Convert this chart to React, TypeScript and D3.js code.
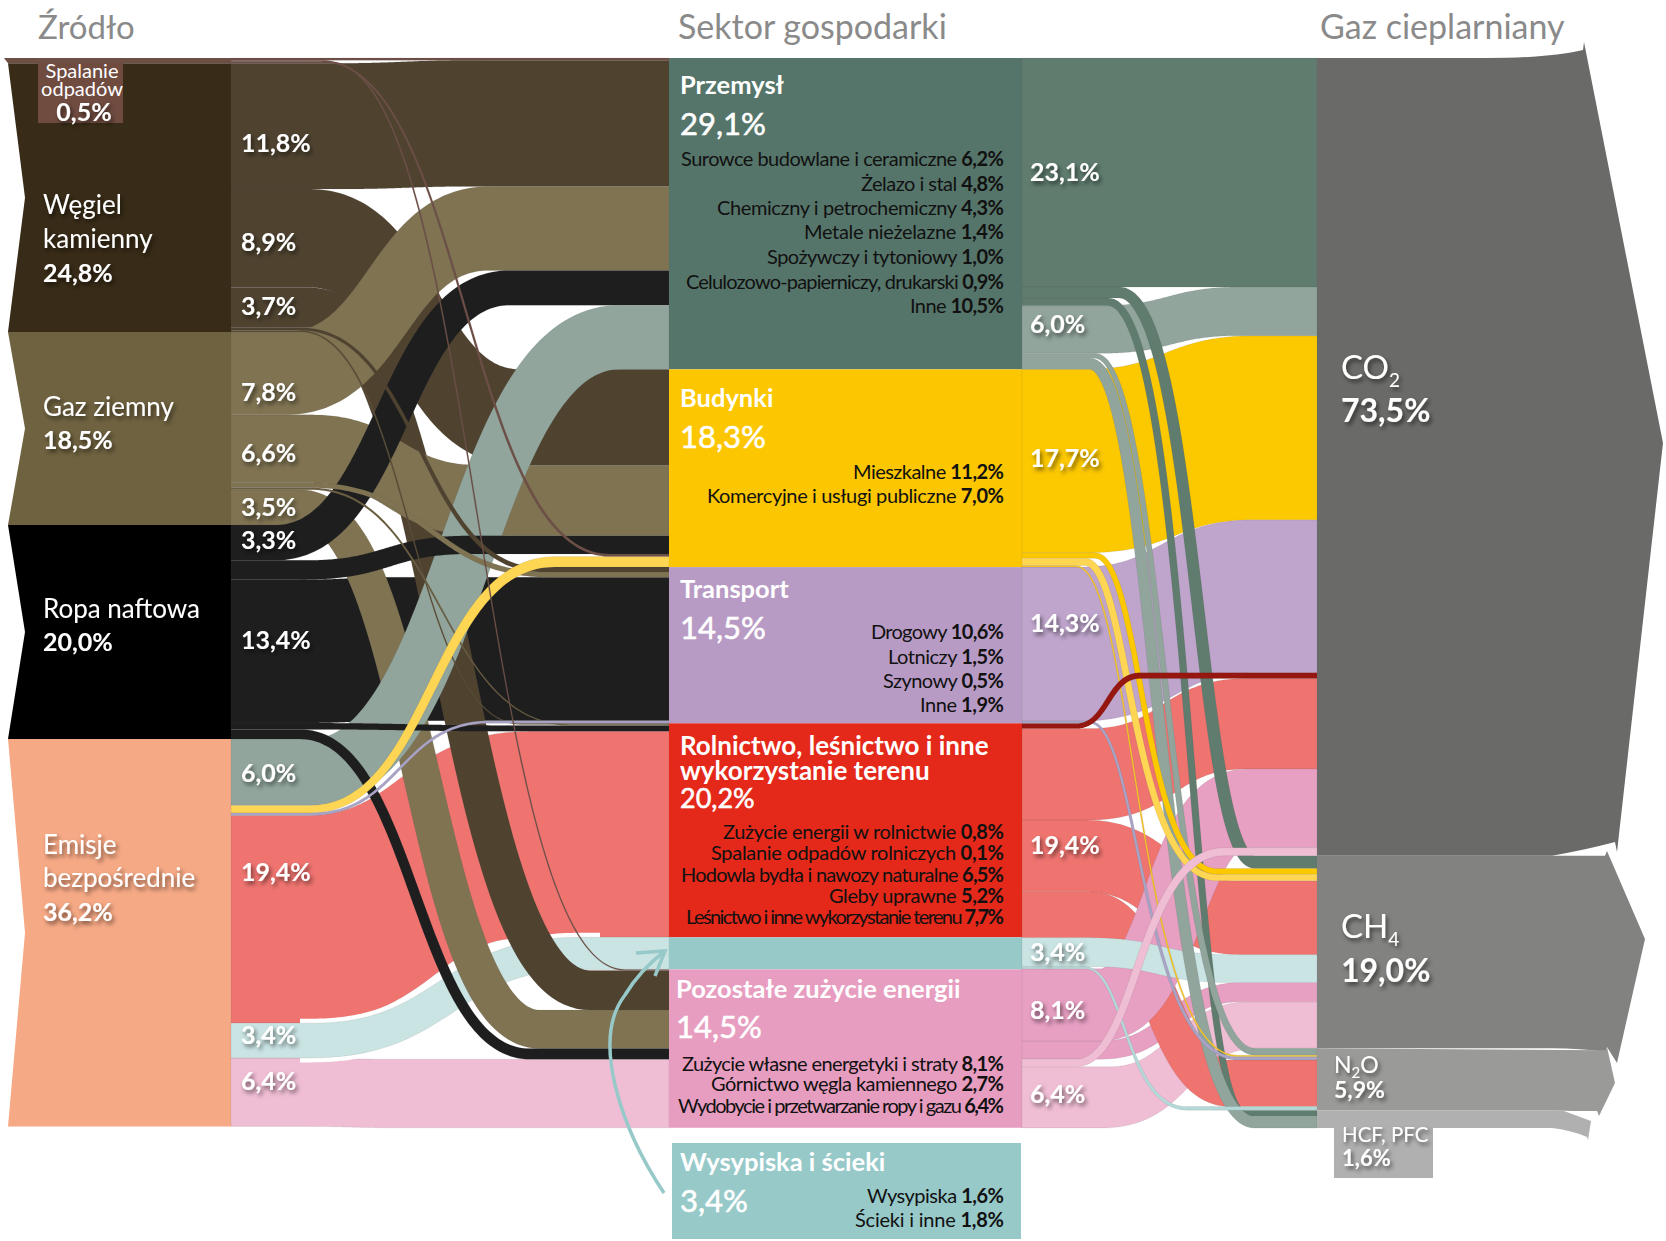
import React from 'react';
import * as d3 from 'd3';

// ---------- data: band widths in % of total emissions ----------
const leftIds = ['sp-prz','sp-bud','sp-poz','wk-prz','wk-bud','wk-poz','wk-tra','wk-rol','gz-prz','gz-bud','gz-tra','gz-rol','gz-poz','rn-prz','rn-bud','rn-tra','rn-rol','rn-poz','em-prz','em-bud','em-tra','em-rol','em-wys','em-poz'];
const leftSrcValues = [0.2,0.15,0.15, 11.75,9.2,3.75,0.25,0.15, 7.75,6.35,0.45,0.2,3.3, 3.3,1.8,13.4,0.6,0.9, 6.2,0.7,0.25,19.4,3.25,6.4];
const leftDstOrder = ['sp-prz','wk-prz','gz-prz','rn-prz','em-prz','wk-bud','gz-bud','rn-bud','sp-bud','em-bud','wk-tra','gz-tra','rn-tra','em-tra','wk-rol','gz-rol','rn-rol','em-rol','em-wys','sp-poz','wk-poz','gz-poz','rn-poz','em-poz'];
const leftDstValues = [0.2,11.8,7.85,3.25,6.0, 8.95,6.6,1.7,0.25,0.98, 0.45,0.5,13.4,0.25, 0.1,0.1,0.55,19.25, 3.0, 0.1,3.7,3.6,1.0,6.4];

const rightIds = ['prz-co2','prz-ch4','prz-hfc','gg-co2','gg-n2o','gg-hfc','bud-co2','bud-ch4','byl-ch4','byl-n2o','tra-co2','tra-n2o','rod-co2','rol-co2','rol-ch4','rol-n2o','wys-ch4','wys-n2o','poz-co2','poz-ch4','pl-co2','pl-ch4'];
const rightSrcValues = [21.4,1.03,0.72, 4.45,0.47,1.03, 17.14,0.52,0.67,0.14, 14.4,0.23, 0.47,8.55,6.7,4.3, 2.7,0.2, 6.75,1.7,0.7,5.72];
const rightDstOrder = ['prz-co2','gg-co2','bud-co2','tra-co2','rod-co2','rol-co2','poz-co2','pl-co2','prz-ch4','bud-ch4','byl-ch4','rol-ch4','wys-ch4','poz-ch4','pl-ch4','gg-n2o','byl-n2o','tra-n2o','rol-n2o','wys-n2o','prz-hfc','gg-hfc'];
const rightDstValues = [21.4,4.55,17.2,14.3,0.55,8.45,7.35,0.75, 1.2,0.55,0.6,6.9,2.6,1.8,4.35, 0.65,0.15,0.3,4.35,0.33, 0.6,1.08];

const sourceLabels: [string, string[], string][] = [
  ['wk', ['Węgiel', 'kamienny'], '24,8%'],
  ['gz', ['Gaz ziemny'], '18,5%'],
  ['rn', ['Ropa naftowa'], '20,0%'],
  ['em', ['Emisje', 'bezpośrednie'], '36,2%'],
];
const leftFlowLabels = ['11,8%','8,9%','3,7%','7,8%','6,6%','3,5%','3,3%','13,4%','6,0%','19,4%','3,4%','6,4%'];
const rightFlowLabels = ['23,1%','6,0%','17,7%','14,3%','19,4%','3,4%','8,1%','6,4%'];

const przemyslItems: [string, string][] = [['Surowce budowlane i ceramiczne','6,2%'],['Żelazo i stal','4,8%'],['Chemiczny i petrochemiczny','4,3%'],['Metale nieżelazne','1,4%'],['Spożywczy i tytoniowy','1,0%'],['Celulozowo-papierniczy, drukarski','0,9%'],['Inne','10,5%']];
const budynkiItems: [string, string][] = [['Mieszkalne','11,2%'],['Komercyjne i usługi publiczne','7,0%']];
const transportItems: [string, string][] = [['Drogowy','10,6%'],['Lotniczy','1,5%'],['Szynowy','0,5%'],['Inne','1,9%']];
const rolnictwoItems: [string, string][] = [['Zużycie energii w rolnictwie','0,8%'],['Spalanie odpadów rolniczych','0,1%'],['Hodowla bydła i nawozy naturalne','6,5%'],['Gleby uprawne','5,2%'],['Leśnictwo i inne wykorzystanie terenu','7,7%']];
const pozostaleItems: [string, string][] = [['Zużycie własne energetyki i straty','8,1%'],['Górnictwo węgla kamiennego','2,7%'],['Wydobycie i przetwarzanie ropy i gazu','6,4%']];
const wysypiskaItems: [string, string][] = [['Wysypiska','1,6%'],['Ścieki i inne','1,8%']];

// ---------- layout & style ----------
const X = { srcL: 8, srcR: 231, secL: 669, secR: 1022, gasL: 1317 };
const y = d3.scaleLinear().domain([0, 100]).range([58, 1128]);
const h = (v: number) => y(v) - y(0);

const C = {
  wkN: '#382B17', wk: '#4F4330', gzN: '#6F6240', gz: '#7F7352', rnN: '#000000', rn: '#1E1E1E', emN: '#F6A985',
  prz: '#5F7C6E', gg: '#91A59C', bud: '#FCC800', byl: '#FFD654', tra: '#BFA5CC', rol: '#EF7470', rod: '#96170F',
  wys: '#C9E4E3', poz: '#E79FC2', pl: '#EFBDD4', sp: '#6E4F46', lav: '#A9A3C6',
};
const colorOf: Record<string, string> = {
  'sp-prz': C.sp, 'sp-bud': C.sp, 'sp-poz': C.sp,
  'wk-prz': C.wk, 'wk-bud': C.wk, 'wk-poz': C.wk, 'wk-tra': C.wk, 'wk-rol': '#5b4c35',
  'gz-prz': C.gz, 'gz-bud': C.gz, 'gz-tra': C.gz, 'gz-rol': '#6a5e40', 'gz-poz': C.gz,
  'rn-prz': C.rn, 'rn-bud': C.rn, 'rn-tra': C.rn, 'rn-rol': C.rn, 'rn-poz': C.rn,
  'em-prz': C.gg, 'em-bud': C.byl, 'em-tra': C.lav, 'em-rol': C.rol, 'em-wys': C.wys, 'em-poz': C.pl,
  'prz-co2': C.prz, 'prz-ch4': C.prz, 'prz-hfc': C.prz, 'gg-co2': C.gg, 'gg-n2o': C.gg, 'gg-hfc': C.gg,
  'bud-co2': C.bud, 'bud-ch4': C.bud, 'byl-ch4': C.byl, 'byl-n2o': '#F8C72A', 'tra-co2': C.tra, 'tra-n2o': C.lav,
  'rod-co2': C.rod, 'rol-co2': C.rol, 'rol-ch4': C.rol, 'rol-n2o': C.rol, 'wys-ch4': C.wys, 'wys-n2o': '#B5D9D8',
  'poz-co2': C.poz, 'poz-ch4': C.poz, 'pl-co2': C.pl, 'pl-ch4': C.pl,
};
// ribbon routing: [start of bend, end of bend, x of the steep middle (optional), how far the band keeps its width across the slope (1 = fully)]
type Bend = [number, number, number?, number?];
const bends: Record<string, Bend> = {
  'sp-prz': [300, 500], 'sp-bud': [320, 610], 'sp-poz': [330, 625],
  'wk-prz': [330, 480], 'wk-bud': [310, 520, undefined, 0.55], 'wk-poz': [310, 590], 'wk-tra': [300, 540], 'wk-rol': [300, 520],
  'gz-prz': [285, 490, undefined, 0.55], 'gz-bud': [310, 480, undefined, 0.4], 'gz-tra': [310, 550], 'gz-rol': [310, 570], 'gz-poz': [300, 540],
  'rn-prz': [275, 510], 'rn-bud': [305, 470], 'rn-tra': [300, 400], 'rn-rol': [300, 520], 'rn-poz': [300, 530],
  'em-prz': [310, 620, undefined, 0.8], 'em-bud': [310, 555], 'em-tra': [310, 490], 'em-rol': [303, 531, undefined, 0.3], 'em-wys': [312, 580], 'em-poz': [300, 400],
  'prz-co2': [1100, 1240, undefined, 0], 'prz-ch4': [1119, 1255, 1197], 'prz-hfc': [1108, 1245, 1190],
  'gg-co2': [1100, 1240, undefined, 0.3], 'gg-n2o': [1095, 1255, 1165], 'gg-hfc': [1090, 1255, 1158],
  'bud-co2': [1085, 1255, undefined, 0.2], 'bud-ch4': [1095, 1217, 1142], 'byl-ch4': [1085, 1217, 1130], 'byl-n2o': [1076, 1238, 1135],
  'tra-co2': [1080, 1255, undefined, 0.2], 'tra-n2o': [1090, 1238, 1140], 'rod-co2': [1076, 1140],
  'rol-co2': [1090, 1246, undefined, 0.3], 'rol-ch4': [1085, 1240, undefined, 0.5], 'rol-n2o': [1090, 1230, undefined, 0.7],
  'wys-ch4': [1090, 1230, undefined, 0.5], 'wys-n2o': [1085, 1187, 1125],
  'poz-co2': [1100, 1246, undefined, 0.8], 'poz-ch4': [1100, 1242], 'pl-co2': [1076, 1225, 1138], 'pl-ch4': [1106, 1255, undefined, 0.6],
};
const leftDrawOrder = ['rn-tra','em-rol','em-poz','TEALGAP','em-wys','wk-poz','gz-poz','gz-bud','wk-bud','wk-prz','gz-prz','rn-prz','em-prz','rn-bud','rn-poz','rn-rol','gz-tra','wk-tra','wk-rol','gz-rol','em-bud','em-tra','sp-prz','sp-bud','sp-poz'];
const rightDrawOrder = ['prz-co2','tra-co2','bud-co2','gg-co2','rol-co2','rol-ch4','pl-ch4','poz-ch4','rol-n2o','poz-co2','wys-ch4','prz-hfc','prz-ch4','gg-hfc','gg-n2o','bud-ch4','byl-ch4','byl-n2o','tra-n2o','wys-n2o','pl-co2','rod-co2'];

function stack(ids: string[], values: number[]) {
  const out: Record<string, [number, number]> = {};
  let c = 0;
  ids.forEach((id, i) => { out[id] = [c, c + values[i]]; c += values[i]; });
  return out;
}
const leftA = stack(leftIds, leftSrcValues);
const leftB = stack(leftDstOrder, leftDstValues);
const rightA = stack(rightIds, rightSrcValues);
const rightB = stack(rightDstOrder, rightDstValues);

const lineGen = d3.line<[number, number]>();

function ribbon(x0: number, x1: number, a: [number, number], b: [number, number], bend: Bend) {
  const ya = y((a[0] + a[1]) / 2), yb = y((b[0] + b[1]) / 2);
  const wa = h(a[1] - a[0]), wb = h(b[1] - b[0]);
  const [xa, xb] = bend;
  const xm = bend[2] ?? (xa + xb) / 2;
  const k = bend[3] ?? 1;
  const up: [number, number][] = [[x0, ya - wa / 2]];
  const dn: [number, number][] = [[x0, ya + wa / 2]];
  d3.range(0, 91).forEach((i) => {
    const t = i / 90, s = 1 - t;
    const px = s*s*s*xa + 3*s*s*t*xm + 3*s*t*t*xm + t*t*t*xb;
    const py = s*s*s*ya + 3*s*s*t*ya + 3*s*t*t*yb + t*t*t*yb;
    const dx = 3*s*s*(xm-xa) + 3*t*t*(xb-xm) + 1e-6;
    const dy = 6*s*t*(yb-ya);
    const L = Math.hypot(dx, dy);
    const w = (wa + (wb - wa) * t) / 2;
    const ox = k * (dy / L) * w;
    const oy = ((1 - k) + k * (dx / L)) * w;
    up.push([px + ox, py - oy]);
    dn.push([px - ox, py + oy]);
  });
  up.push([x1, yb - wb / 2]);
  dn.push([x1, yb + wb / 2]);
  return lineGen([...up, ...dn.reverse()]) + 'Z';
}

const span = (st: Record<string, [number, number]>, prefix: string, second = false): [number, number] => {
  const keys = Object.keys(st).filter((k) => (second ? k.split('-')[1] : k.split('-')[0]) === prefix);
  return [d3.min(keys, (k) => st[k][0])!, d3.max(keys, (k) => st[k][1])!];
};

const FONT = 'Lato, Carlito, sans-serif';

function Shadowed(p: any) {
  return <text fill="#fff" filter="url(#sh)" fontFamily={FONT} {...p} />;
}
function Pct(p: any) {
  return <text fontSize={31} stroke="#fff" strokeWidth={0.55} {...p} />;
}
function ItemList({ items, baselines, widths, size = 20 }: { items: [string, string][]; baselines: number[]; widths: number[]; size?: number }) {
  return (
    <g fontFamily={FONT} fontSize={size} fill="#111">
      {items.map((it, i) => (
        <text key={it[0]} x={1004 - widths[i]} y={baselines[i]} textLength={widths[i]} lengthAdjust="spacing">
          {it[0]} <tspan fontWeight={700}>{it[1]}</tspan>
        </text>
      ))}
    </g>
  );
}

const chevron = (t: number, b: number) => `M${X.srcL},${t}L${X.srcL + 17},${(t + b) / 2}L${X.srcL},${b}L${X.srcR},${b}L${X.srcR},${t}Z`;

const gasShapes = [
  { fill: '#6A6A68', d: (t: number, b: number) => `M${X.gasL},${t}L1487,${t}Q1550,${t} 1583,50L1584,42L1663,443L1617,852L1615,842Q1585,850 1552,${b}L${X.gasL},${b}Z`, ext: 'co2' },
  { fill: '#828280', d: (t: number, b: number) => `M${X.gasL},${t}L1605,${t}L1607,851L1645,939L1617,1063L1607,1047L1606,1052Q1580,${b} 1552,${b}L${X.gasL},${b}Z`, ext: 'ch4' },
  { fill: '#9A9A98', d: (t: number, b: number) => `M${X.gasL},${t}L1606,${t + 2}L1607,1047L1615,1083L1599,1116L1597,1111Q1575,${b + 1} 1552,${b}L${X.gasL},${b}Z`, ext: 'n2o' },
  { fill: '#B0B0B0', d: (t: number, b: number) => `M${X.gasL},${t}L1562,${t}Q1578,1116 1591,1121L1588,1140L1587,1137Q1570,1130 1552,${b}L${X.gasL},${b}Z`, ext: 'hfc' },
];

export default function App() {
  const srcExt = (k: string) => span(leftA, k);
  const secExt = (k: string) => span(leftB, k, true);
  const arrow = d3.path();
  arrow.moveTo(664, 1193);
  arrow.bezierCurveTo(622, 1130, 590, 1040, 625, 995);
  arrow.quadraticCurveTo(640, 970, 665, 951);
  const head = d3.path();
  head.moveTo(636, 953); head.lineTo(665, 951); head.lineTo(655, 976);

  return (
    <svg width={1666} height={1241} style={{ position: 'absolute', left: 0, top: 0, display: 'block' }}>
      <defs>
        <filter id="sh" x="-30%" y="-30%" width="170%" height="180%">
          <feDropShadow dx="2" dy="3" stdDeviation="2.2" floodColor="#000" floodOpacity="0.55" />
        </filter>
        <clipPath id="tealGapClip"><rect x={300} y={900} width={300} height={200} /></clipPath>
      </defs>

      {/* headers */}
      <g fontFamily={FONT} fill="#8A8A8A">
        <text x={38} y={39} fontSize={33}>Źródło</text>
        <text x={678} y={39} fontSize={34}>Sektor gospodarki</text>
        <text x={1320} y={39} fontSize={34}>Gaz cieplarniany</text>
      </g>

      {/* source nodes */}
      <path d={chevron(y(srcExt('wk')[0]), y(srcExt('wk')[1]))} fill={C.wkN} />
      <path d={chevron(y(srcExt('gz')[0]), y(srcExt('gz')[1]))} fill={C.gzN} />
      <path d={chevron(y(srcExt('rn')[0]), y(srcExt('rn')[1]))} fill={C.rnN} />
      <path d={chevron(y(srcExt('em')[0]), y(srcExt('em')[1]))} fill={C.emN} />
      <path d={`M4,${y(0)}L${X.srcR},${y(0)}L${X.srcR},${y(0.5)}L8,${y(0.5)}Z`} fill={C.sp} />

      {/* left links */}
      {leftDrawOrder.map((id) => (id === 'TEALGAP'
        ? <path key={id} d={ribbon(X.srcR, X.secL, leftA['em-wys'], leftB['em-wys'], bends['em-wys'])} fill="none" stroke="#fff" strokeWidth={9} clipPath="url(#tealGapClip)" />
        : <path key={id} d={ribbon(X.srcR, X.secL, leftA[id], leftB[id], bends[id])} fill={colorOf[id]} stroke="#4a4a4a" strokeOpacity={0.18} strokeWidth={0.6} />
      ))}

      {/* sector nodes */}
      {[['prz','#56756A'],['bud','#FCC600'],['tra','#B89BC4'],['rol','#E4281A'],['wys','#97C9C9'],['poz','#E79DBF']].map(([k, f]) => (
        <rect key={k} x={X.secL} width={X.secR - X.secL} y={y(secExt(k)[0])} height={h(secExt(k)[1] - secExt(k)[0])} fill={f} />
      ))}

      {/* right links */}
      {rightDrawOrder.map((id) => (
        <path key={id} d={ribbon(X.secR, X.gasL, rightA[id], rightB[id], bends[id])} fill={colorOf[id]} stroke="#4a4a4a" strokeOpacity={0.18} strokeWidth={0.6} />
      ))}

      {/* gas nodes */}
      {gasShapes.map((g) => {
        const e = span(rightB, g.ext, true);
        return <path key={g.ext} d={g.d(y(e[0]), y(e[1]))} fill={g.fill} />;
      })}
      <rect x={1334} y={1125} width={99} height={53} fill="#B0B0B0" />

      {/* waste box & source labels */}
      <rect x={38} y={63} width={85} height={60} fill="#6F4B40" />
      <g fontFamily={FONT}>
        <text x={82} y={78} textAnchor="middle" fontSize={20} fill="#fff">Spalanie</text>
        <text x={82} y={96} textAnchor="middle" fontSize={20} fill="#fff">odpadów</text>
      </g>
      <Shadowed x={84} y={121} textAnchor="middle" fontSize={25} fontWeight={700}>0,5%</Shadowed>

      {sourceLabels.map(([k, lines, val]) => {
        const baselines: Record<string, number[]> = { wk: [214, 248, 282], gz: [416, 449], rn: [618, 651], em: [854, 887, 921] };
        return (
          <g key={k}>
            {lines.map((l, i) => <Shadowed key={l} x={43} y={baselines[k][i]} fontSize={26}>{l}</Shadowed>)}
            <Shadowed x={43} y={baselines[k][lines.length]} fontSize={25} fontWeight={700}>{val}</Shadowed>
          </g>
        );
      })}

      {leftFlowLabels.map((l, i) => (
        <Shadowed key={i} x={241} y={[152, 251, 315, 401, 462, 516, 549, 649, 782, 881, 1044, 1090][i]} fontSize={25} fontWeight={700}>{l}</Shadowed>
      ))}
      {rightFlowLabels.map((l, i) => (
        <Shadowed key={i} x={1030} y={[181, 333, 467, 632, 854, 961, 1019, 1103][i]} fontSize={25} fontWeight={700}>{l}</Shadowed>
      ))}

      {/* sector text */}
      <g fontFamily={FONT} fill="#fff">
        <text x={680} y={94} fontSize={25.5} fontWeight={700}>Przemysł</text>
        <Pct x={680} y={135}>29,1%</Pct>
        <text x={680} y={407} fontSize={25.5} fontWeight={700}>Budynki</text>
        <Pct x={680} y={448}>18,3%</Pct>
        <text x={680} y={598} fontSize={25.5} fontWeight={700}>Transport</text>
        <Pct x={680} y={639}>14,5%</Pct>
        <text x={680} y={755} fontSize={26} fontWeight={700}>Rolnictwo, leśnictwo i inne</text>
        <text x={680} y={780} fontSize={26} fontWeight={700}>wykorzystanie terenu</text>
        <Pct x={680} y={808} fontSize={27}>20,2%</Pct>
        <text x={676} y={998} fontSize={25.5} fontWeight={700}>Pozostałe zużycie energii</text>
        <Pct x={676} y={1038}>14,5%</Pct>
      </g>
      <ItemList items={przemyslItems} baselines={[166, 191, 215, 239, 264, 289, 313]} widths={[323, 143, 287, 200, 237, 318, 94]} />
      <ItemList items={budynkiItems} baselines={[479, 503]} widths={[151, 297]} />
      <ItemList items={transportItems} baselines={[639, 664, 688, 712]} widths={[133, 116, 121, 84]} />
      <ItemList items={rolnictwoItems} baselines={[839, 860, 882, 903, 924]} widths={[281, 293, 323, 175, 318]} />
      <ItemList items={pozostaleItems} baselines={[1071, 1091, 1113]} widths={[322, 293, 326]} />

      {/* landfill box + arrow */}
      <rect x={672} y={1143} width={349} height={96} fill="#97C9C9" />
      <g fontFamily={FONT} fill="#fff">
        <text x={680} y={1171} fontSize={25.5} fontWeight={700}>Wysypiska i ścieki</text>
        <Pct x={680} y={1212}>3,4%</Pct>
      </g>
      <ItemList items={wysypiskaItems} baselines={[1203, 1227]} widths={[137, 149]} />
      <path d={arrow.toString()} fill="none" stroke="#97C9C9" strokeWidth={3.5} />
      <path d={head.toString()} fill="none" stroke="#97C9C9" strokeWidth={3.5} />

      {/* gas labels */}
      <Shadowed x={1341} y={379} fontSize={33}>CO<tspan fontSize={19} dy={8}>2</tspan></Shadowed>
      <Shadowed x={1341} y={422} fontSize={32} fontWeight={700}>73,5%</Shadowed>
      <Shadowed x={1341} y={938} fontSize={33}>CH<tspan fontSize={19} dy={8}>4</tspan></Shadowed>
      <Shadowed x={1341} y={982} fontSize={32} fontWeight={700}>19,0%</Shadowed>
      <Shadowed x={1334} y={1073} fontSize={23}>N<tspan fontSize={15} dy={5}>2</tspan><tspan dy={-5}>O</tspan></Shadowed>
      <Shadowed x={1334} y={1098} fontSize={23} fontWeight={700}>5,9%</Shadowed>
      <Shadowed x={1342} y={1142} fontSize={20.5}>HCF, PFC</Shadowed>
      <Shadowed x={1342} y={1166} fontSize={22} fontWeight={700}>1,6%</Shadowed>
    </svg>
  );
}
